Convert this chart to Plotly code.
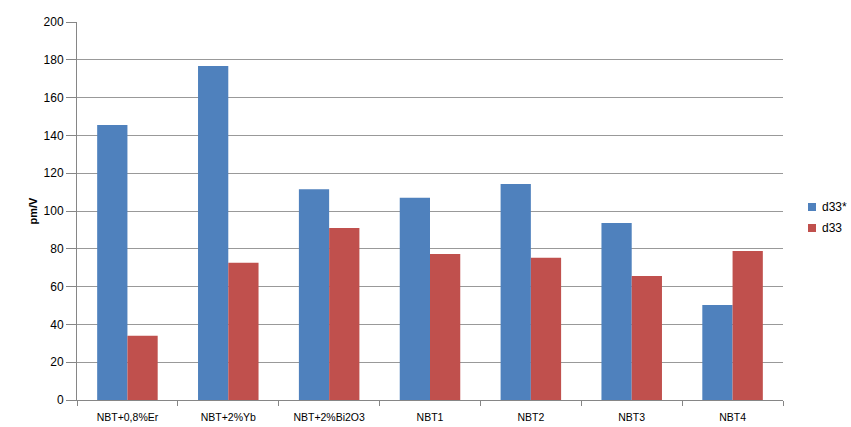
import plotly.graph_objects as go

categories = ["NBT+0,8%Er", "NBT+2%Yb", "NBT+2%Bi2O3", "NBT1", "NBT2", "NBT3", "NBT4"]
series_names = ["d33*", "d33"]
d33_star = [145.5, 176.7, 111.5, 107, 114.3, 93.7, 50.2]
d33 = [34, 72.6, 91, 77.2, 75.3, 65.6, 78.8]
y_ticks = [0, 20, 40, 60, 80, 100, 120, 140, 160, 180, 200]
colors = ["#4F81BD", "#C0504D"]

fig = go.Figure()
for name, vals, col in zip(series_names, [d33_star, d33], colors):
    fig.add_trace(go.Bar(name=name, x=categories, y=vals, showlegend=False,
                         marker=dict(color=col, line=dict(width=0))))

# plot area in page pixels: x 77..783, y 22..400
def px_x(px):
    return (px - 77) / 706.0

def px_y(py):
    return (400 - py) / 378.0

leg_y = [207, 228]
for name, col, yy in zip(series_names, colors, leg_y):
    fig.add_shape(type="rect", xref="paper", yref="paper",
                  x0=px_x(808), x1=px_x(816), y0=px_y(yy + 4), y1=px_y(yy - 4),
                  fillcolor=col, line=dict(width=0))
    fig.add_annotation(xref="paper", yref="paper", x=px_x(820), y=px_y(yy),
                       text=name, showarrow=False, xanchor="left", yanchor="middle",
                       font=dict(size=12, color="#000000"))

font = "Liberation Sans"
fig.update_layout(
    width=851, height=427,
    margin=dict(l=77, r=68, t=22, b=27, autoexpand=False),
    paper_bgcolor="white", plot_bgcolor="white",
    barmode="group", bargap=0.4, bargroupgap=0,
    font=dict(family=font, size=11, color="#000000"),
    xaxis=dict(type="category", showline=True, linecolor="#868686", linewidth=1,
               ticks="outside", tickson="boundaries", ticklen=5, tickcolor="#868686",
               showgrid=False, tickfont=dict(size=10.5), ticklabelstandoff=7),
    yaxis=dict(range=[0, 200], tickvals=y_ticks, showline=True, linecolor="#868686",
               ticks="outside", ticklen=10, tickcolor="#868686",
               showgrid=True, gridcolor="#999999", gridwidth=1, zeroline=False,
               title=dict(text="<b>pm/V</b>", font=dict(size=11), standoff=3),
               tickfont=dict(size=12)),
)
fig.write_html("out.html", config={"displayModeBar": False},
               post_script="document.body.style.margin='0';document.body.style.overflow='hidden';")
